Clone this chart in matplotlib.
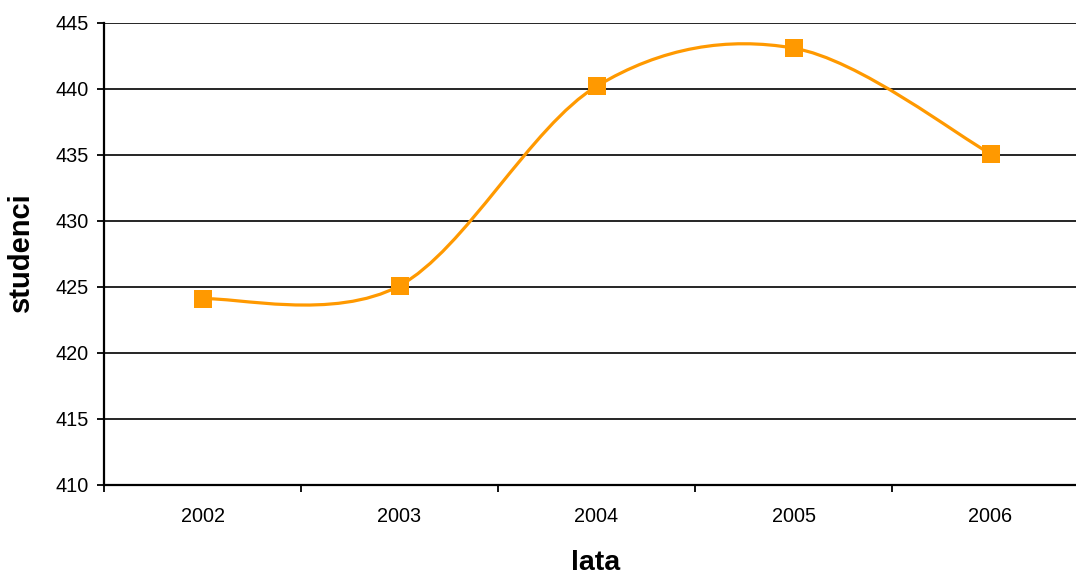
import numpy as np
import matplotlib
matplotlib.use("Agg")
import matplotlib.pyplot as plt
from matplotlib.path import Path
from matplotlib.patches import PathPatch

plt.rcParams['font.family'] = ['Liberation Sans', 'DejaVu Sans']

years = ['2002', '2003', '2004', '2005', '2006']
studenci = [424.1, 425.1, 440.2, 443.1, 435.1]
y_ticks = [410, 415, 420, 425, 430, 435, 440, 445]

orange = '#FF9900'

#Excel-style smoothed line: cubic Bezier through the points
def smooth_path(xs, ys):
    pts = np.column_stack([xs, ys]).astype(float)
    ext = np.vstack([pts[0], pts, pts[-1]])
    verts = [pts[0]]
    codes = [Path.MOVETO]
    for i in range(len(pts) - 1):
        p0, p1, p2, p3 = ext[i], ext[i+1], ext[i+2], ext[i+3]
        c1 = p1 + (p2 - p0) / 6.0
        c2 = p2 - (p3 - p1) / 6.0
        verts += [c1, c2, p2]
        codes += [Path.CURVE4] * 3
    return Path(np.array(verts), codes)

fig = plt.figure(figsize=(10.76, 5.77), dpi=100)
ax = fig.add_axes([104/1076, 92/577, 985/1076, 462/577])

x = np.arange(len(years))
patch = PathPatch(smooth_path(x, studenci), facecolor='none', edgecolor=orange,
                  lw=2.3, capstyle='round', joinstyle='round', zorder=3)
ax.add_patch(patch)
ax.plot(x, studenci, linestyle='none', marker='s', markersize=12.5,
        color=orange, markeredgewidth=0, zorder=4)

ax.set_xlim(-0.5, len(years) - 0.5)
ax.set_ylim(410, 445)
ax.set_yticks(y_ticks)
ax.set_yticklabels([str(v) for v in y_ticks], fontsize=14.3)
ax.set_xticks(x)
ax.set_xticklabels(years, fontsize=14.3)
ax.set_xticks(np.arange(len(years) + 1) - 0.5, minor=True)

ax.tick_params(axis='x', which='major', length=0, pad=16)
ax.tick_params(axis='x', which='minor', length=5, width=1.3, direction='out')
ax.tick_params(axis='y', length=5, width=1.3, direction='out', pad=6)

ax.yaxis.grid(True, color='black', lw=1.2)
ax.set_axisbelow(True)
for s in ['top', 'right']:
    ax.spines[s].set_visible(False)
for s in ['left', 'bottom']:
    ax.spines[s].set_linewidth(1.6)
    ax.spines[s].set_zorder(5)

fig.text(596/1076, 1 - 563/577, 'lata', fontsize=20.5, fontweight='bold',
         ha='center', va='center')
fig.text(21/1076, 1 - 252/577, 'studenci', fontsize=21, fontweight='bold',
         ha='center', va='center', rotation=90)

fig.savefig('out.png', dpi=100)
